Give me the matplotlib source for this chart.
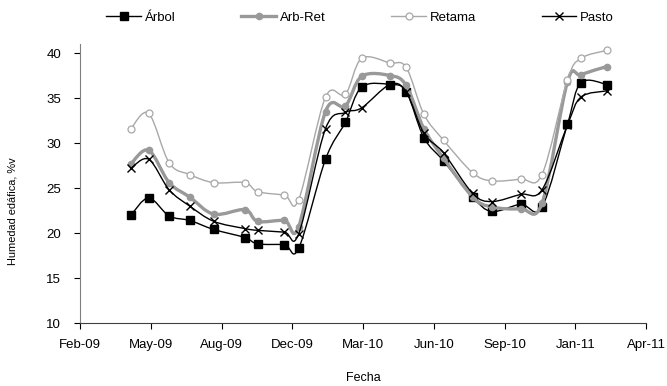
import matplotlib
matplotlib.use("Agg")
import matplotlib.pyplot as plt
import matplotlib.dates as mdates
from matplotlib.path import Path
from matplotlib.patches import PathPatch
from matplotlib.lines import Line2D
import pandas as pd

# sampling dates
fechas = ['2009-04-19', '2009-05-14', '2009-06-12', '2009-07-11', '2009-08-14',
          '2009-09-27', '2009-10-15', '2009-11-22', '2009-12-12', '2010-01-19',
          '2010-02-16', '2010-03-11', '2010-04-20', '2010-05-13', '2010-06-07',
          '2010-07-05', '2010-08-15', '2010-09-11', '2010-10-22', '2010-11-21',
          '2010-12-27', '2011-01-15', '2011-02-21']

arbol = [22.0, 23.9, 21.9, 21.4, 20.4, 19.5, 18.8, 18.7, 18.3, 28.2, 32.3, 36.2,
         36.5, 35.7, 30.6, 28.0, 24.0, 22.4, 23.2, 22.9, 32.1, 36.7, 36.5]
arb_ret = [27.7, 29.2, 25.6, 24.0, 22.1, 22.6, 21.3, 21.4, 20.7, 33.5, 34.1, 37.4,
           37.5, 36.4, 31.6, 28.3, 24.0, 22.9, 22.7, 23.3, 36.8, 37.6, 38.5]
retama = [31.6, 33.3, 27.8, 26.5, 25.6, 25.6, 24.6, 24.2, 23.7, 35.1, 35.4, 39.4,
          38.9, 38.4, 33.2, 30.3, 26.7, 25.8, 26.0, 26.5, 37.0, 39.4, 40.3]
pasto = [27.2, 28.2, 24.8, 23.0, 21.3, 20.5, 20.3, 20.1, 19.9, 31.6, 33.4, 33.9,
         36.5, 35.7, 31.1, 28.9, 24.4, 23.5, 24.3, 24.8, 32.0, 35.1, 35.8]

x_inicio = '2009-02-06'   # axis start, ticks every 100 days
y_ticks = [10, 15, 20, 25, 30, 35, 40]


def smooth_path(x, y):
    """Bezier path through the points (Excel style smoothed line)."""
    n = len(x)
    verts = [(x[0], y[0])]
    codes = [Path.MOVETO]
    for i in range(n - 1):
        x0, y0 = (x[i - 1], y[i - 1]) if i > 0 else (x[i], y[i])
        x3, y3 = (x[i + 2], y[i + 2]) if i + 2 < n else (x[i + 1], y[i + 1])
        c1 = (x[i] + (x[i + 1] - x0) / 6, y[i] + (y[i + 1] - y0) / 6)
        c2 = (x[i + 1] - (x3 - x[i]) / 6, y[i + 1] - (y3 - y[i]) / 6)
        verts += [c1, c2, (x[i + 1], y[i + 1])]
        codes += [Path.CURVE4] * 3
    return Path(verts, codes)


plt.rcParams['font.family'] = ['Liberation Sans', 'DejaVu Sans']

fig = plt.figure(figsize=(6.67, 3.86), dpi=100)
ax = fig.add_axes([0.12, 0.163, 0.8485, 0.723])

xd = mdates.date2num(pd.to_datetime(fechas))

series = [
    ('Árbol', arbol, dict(color='black', lw=1.0), dict(marker='s', ms=5.2, mfc='black', mec='black')),
    ('Arb-Ret', arb_ret, dict(color='#999999', lw=2.4), dict(marker='o', ms=4.5, mfc='#999999', mec='#999999')),
    ('Retama', retama, dict(color='#a8a8a8', lw=1.0), dict(marker='o', ms=5, mfc='white', mec='#a8a8a8', mew=0.9)),
    ('Pasto', pasto, dict(color='black', lw=1.0), dict(marker='x', ms=6, mfc='black', mec='black', mew=1.0)),
]

handles = []
for k, (name, vals, lstyle, mstyle) in enumerate(series):
    z = 2 + k
    ax.add_patch(PathPatch(smooth_path(xd, vals), fill=False,
                           edgecolor=lstyle['color'], lw=lstyle['lw'], zorder=z))
    ax.plot(xd, vals, ls='none', zorder=z + 0.5, **mstyle)
    handles.append(Line2D([], [], color=lstyle['color'], lw=lstyle['lw'],
                          label=name, **mstyle))

start = mdates.date2num(pd.Timestamp(x_inicio))
ax.set_xlim(start, start + 800)
ax.set_xticks([start + 100 * i for i in range(9)])
ax.xaxis.set_major_formatter(mdates.DateFormatter('%b-%y'))
ax.set_ylim(10, 41)
ax.set_yticks(y_ticks)

for s in ('top', 'right'):
    ax.spines[s].set_visible(False)
ax.spines['left'].set_color('#808080')
ax.spines['bottom'].set_color('#404040')
ax.tick_params(axis='both', direction='out', length=4.5, width=0.8,
               labelsize=9.5, colors='black')
ax.tick_params(axis='y', pad=9)
ax.tick_params(axis='x', pad=7)

ax.set_xlabel('Fecha', fontsize=9, va='center')
ax.xaxis.set_label_coords(0.5, -0.197)
ax.set_ylabel('Humedad edáfica, %v', fontsize=7.9, va='center')
ax.yaxis.set_label_coords(-0.12, 0.40)

fig.legend(handles=handles, loc='upper center', bbox_to_anchor=(0.54, 1.0),
           ncol=4, frameon=False, fontsize=9.5, handlelength=2.6,
           handletextpad=0.3, columnspacing=5.0)

fig.savefig('out.png', dpi=100)
